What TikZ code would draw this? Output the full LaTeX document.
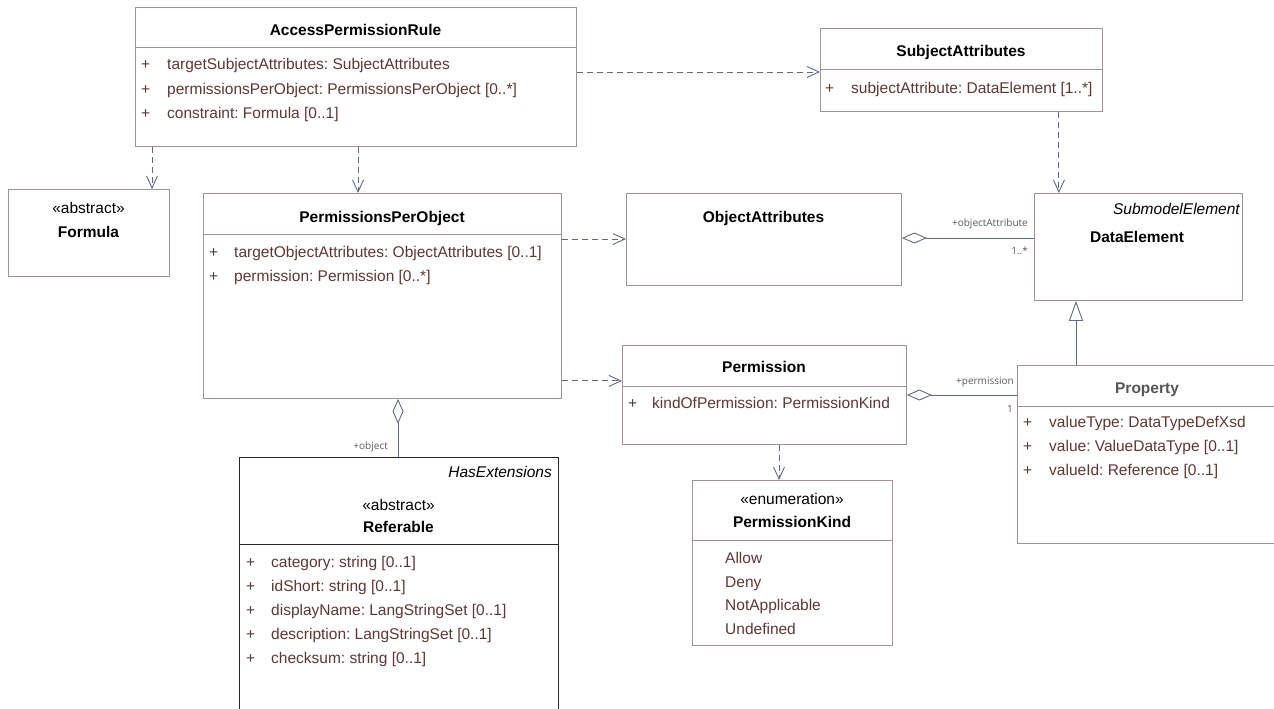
\documentclass[tikz,border=0pt]{standalone}
\usepackage{fontspec}
\setmainfont{Liberation Sans}
\newfontfamily\lblfont{Open Sans}
\usetikzlibrary{arrows.meta}
\frenchspacing
\definecolor{boxc}{RGB}{165,145,145}
\definecolor{linec}{RGB}{95,105,135}
\definecolor{attrc}{RGB}{95,55,50}
\definecolor{lblc}{RGB}{90,90,90}
\definecolor{propc}{RGB}{85,85,85}
\tikzset{
  box/.style={draw=boxc, line width=0.9pt, fill=white, inner sep=0pt, anchor=north west},
  refbox/.style={draw=black!85, line width=1pt, fill=white, inner sep=0pt, anchor=north west},
  sepline/.style={draw=boxc, line width=0.9pt},
  title/.style={font=\fontsize{15.5}{18}\selectfont\bfseries, anchor=base, inner sep=0pt},
  stereo/.style={font=\fontsize{15.5}{18}\selectfont, anchor=base, inner sep=0pt},
  ital/.style={font=\fontsize{15.5}{18}\selectfont\itshape, anchor=base east, inner sep=0pt},
  attr/.style={font=\fontsize{15.5}{18}\selectfont, text=attrc, anchor=base west, inner sep=0pt},
  lbl/.style={font=\lblfont\fontsize{10}{12}\selectfont, text=lblc, inner sep=0pt, anchor=base east},
  dep/.style={draw=linec, line width=0.9pt, dash pattern=on 6pt off 4pt, -{Straight Barb[length=12pt,width=11pt]}},
  agg/.style={draw=linec, line width=0.9pt, {Diamond[open,length=25pt,width=11pt,fill=white]}-},
  gen/.style={draw=linec, line width=0.9pt, -{Triangle[open,length=20pt,width=14pt,fill=white]}}
}
\newcommand{\attrline}[5]{%
  \node[attr] (#1-p) at (#2,#4) {+};
  \node[attr] (#1) at (#3,#4) {#5};}
\begin{document}
\begin{tikzpicture}[x=1pt,y=-1pt]
\useasboundingbox (0,0) rectangle (1274,709);
\fill[white] (0,0) rectangle (1274,709);
\clip (0,0) rectangle (1274,709);

% boxes
\node[box, minimum width=441pt, minimum height=139pt] (apr) at (135,7) {};
\node[box, minimum width=282pt, minimum height=83pt] (subj) at (820,28) {};
\node[box, minimum width=161pt, minimum height=87pt] (formula) at (8,189) {};
\node[box, minimum width=358pt, minimum height=205pt] (ppo) at (203,193) {};
\node[box, minimum width=275pt, minimum height=92pt] (obj) at (626,193) {};
\node[box, minimum width=208pt, minimum height=107pt] (de) at (1034,193) {};
\node[box, minimum width=284pt, minimum height=99pt] (perm) at (622,345) {};
\node[box, minimum width=280pt, minimum height=178pt] (prop) at (1017,365) {};
\node[box, minimum width=200pt, minimum height=165pt] (pk) at (692,480) {};
\node[refbox, minimum width=319pt, minimum height=280pt] (ref) at (239,457) {};

% separators
\draw[sepline] (apr.west |- 0,47) -- (apr.east |- 0,47);
\draw[sepline] (subj.west |- 0,69) -- (subj.east |- 0,69);
\draw[sepline] (ppo.west |- 0,234) -- (ppo.east |- 0,234);
\draw[sepline] (perm.west |- 0,386) -- (perm.east |- 0,386);
\draw[sepline] (prop.west |- 0,406) -- (prop.east |- 0,406);
\draw[sepline] (pk.west |- 0,540) -- (pk.east |- 0,540);
\draw[draw=black!85, line width=1pt] (ref.west |- 0,544) -- (ref.east |- 0,544);

% connectors
\draw[dep] ([xshift=17pt]apr.south west) -- ([xshift=17pt]apr.south west |- formula.north);
\draw[dep] ([xshift=223pt]apr.south west) -- ([xshift=223pt]apr.south west |- ppo.north);
\draw[dep] ([yshift=-65pt]apr.north east) -- ([yshift=-65pt]apr.north east -| subj.west);
\draw[dep] ([xshift=-44pt]subj.south east) -- ([xshift=-44pt]subj.south east |- de.north);
\draw[dep] ([yshift=-46pt]ppo.north east) -- ([yshift=-46pt]ppo.north east -| obj.west);
\draw[dep] ([yshift=18pt]ppo.south east) -- ([yshift=18pt]ppo.south east -| perm.west);
\draw[dep] ([xshift=157pt]perm.south west) -- ([xshift=157pt]perm.south west |- pk.north);
\draw[agg] ([yshift=-45pt]obj.north east) -- ([yshift=-45pt]obj.north east -| de.west);
\draw[agg] ([yshift=-50pt]perm.north east) -- ([yshift=-50pt]perm.north east -| prop.west);
\draw[agg] ([xshift=195pt]ppo.south west) -- ([xshift=195pt]ppo.south west |- ref.north);
\draw[gen] ([xshift=59pt]prop.north west) -- ([xshift=59pt]prop.north west |- de.south);

% association labels
\node[lbl] (l-oa) at (1028,226) {+objectAttribute};
\node[lbl] (l-oam) at (1028,254) {1..*};
\node[lbl] (l-p) at (1014,384) {+permission};
\node[lbl] (l-pm) at (1013,412) {1};
\node[lbl] (l-o) at (388,449) {+object};

% AccessPermissionRule
\node[title] (apr-t) at (355.5,36) {AccessPermissionRule};
\attrline{apr-a1}{141}{167}{70}{targetSubjectAttributes: SubjectAttributes}
\attrline{apr-a2}{141}{167}{94}{permissionsPerObject: PermissionsPerObject [0..*]}
\attrline{apr-a3}{141}{167}{118}{constraint: Formula [0..1]}

% SubjectAttributes
\node[title] (subj-t) at (961,57) {SubjectAttributes};
\attrline{subj-a1}{825}{851}{93}{subjectAttribute: DataElement [1..*]}

% Formula
\node[stereo] (formula-s) at (88.5,213) {«abstract»};
\node[title] (formula-t) at (88.5,237) {Formula};

% PermissionsPerObject
\node[title] (ppo-t) at (382,222) {PermissionsPerObject};
\attrline{ppo-a1}{209}{234}{257}{targetObjectAttributes: ObjectAttributes [0..1]}
\attrline{ppo-a2}{209}{234}{281}{permission: Permission [0..*]}

% ObjectAttributes
\node[title] (obj-t) at (763.5,222) {ObjectAttributes};

% DataElement
\node[ital] (de-s) at (1240,214) {SubmodelElement};
\node[title] (de-t) at (1137,242) {DataElement};

% Permission
\node[title] (perm-t) at (764,372) {Permission};
\attrline{perm-a1}{628}{652}{408}{kindOfPermission: PermissionKind}

% Property
\node[title, text=propc] (prop-t) at (1147,393) {Property};
\attrline{prop-a1}{1023}{1049}{427}{valueType: DataTypeDefXsd}
\attrline{prop-a2}{1023}{1049}{451}{value: ValueDataType [0..1]}
\attrline{prop-a3}{1023}{1049}{475}{valueId: Reference [0..1]}

% PermissionKind
\node[stereo] (pk-s) at (792,504) {«enumeration»};
\node[title] (pk-t) at (792,527) {PermissionKind};
\node[attr] (pk-l1) at (725,563) {Allow};
\node[attr] (pk-l2) at (725,587) {Deny};
\node[attr] (pk-l3) at (725,610) {NotApplicable};
\node[attr] (pk-l4) at (725,634) {Undefined};

% Referable
\node[ital] (ref-s0) at (552,477) {HasExtensions};
\node[stereo] (ref-s) at (398.5,510) {«abstract»};
\node[title] (ref-t) at (398.5,532) {Referable};
\attrline{ref-a1}{246}{271}{567}{category: string [0..1]}
\attrline{ref-a2}{246}{271}{591}{idShort: string [0..1]}
\attrline{ref-a3}{246}{271}{615}{displayName: LangStringSet [0..1]}
\attrline{ref-a4}{246}{271}{639}{description: LangStringSet [0..1]}
\attrline{ref-a5}{246}{271}{663}{checksum: string [0..1]}
\end{tikzpicture}
\end{document}
